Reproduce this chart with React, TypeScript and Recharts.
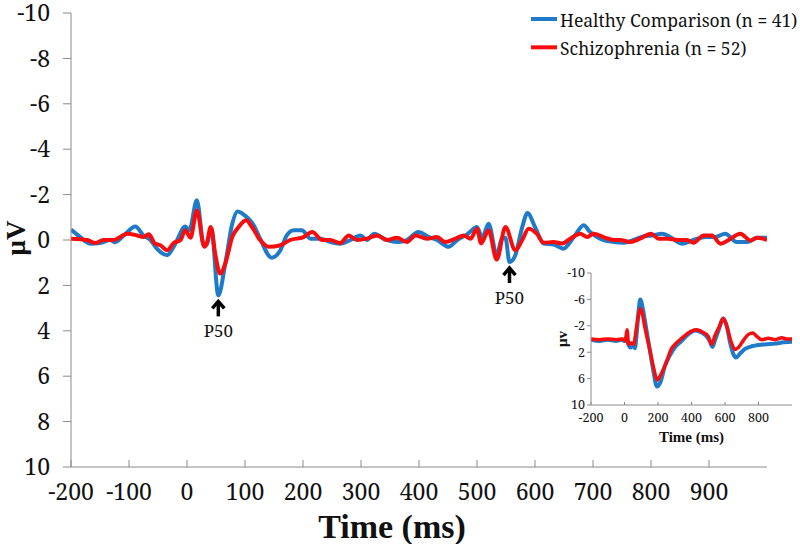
import React from 'react';
import { LineChart, Line, XAxis, YAxis, Legend, ReferenceDot, Label } from 'recharts';

const SERIF_REG = '"Noto Serif", "DejaVu Serif", serif';
const SERIF_BOLD = '"Liberation Serif", "Noto Serif", serif';
const BLUE = '#1f7bc7';
const RED = '#f70d0d';
const AXIS_GRAY = '#8a8a8a';
const TEXT = '#111';

const seriesNames = ['Healthy Comparison (n = 41)', 'Schizophrenia (n = 52)'];

// Main panel: time (ms) and amplitude (µV, positive plotted downward)
const hcTimes = [-200, -184, -167, -150, -132, -124, -109, -89, -75, -63, -52, -34, -20, -3, 4, 17, 29, 34, 42, 54, 66, 78, 87, 103, 115, 126, 146, 161, 172, 184, 198, 213, 230, 247, 264, 282, 299, 310, 323, 339, 350, 365, 379, 399, 417, 431, 451, 466, 483, 500, 509, 520, 534, 543, 549, 556, 566, 578, 587, 600, 615, 632, 649, 667, 684, 695, 707, 718, 736, 753, 770, 787, 802, 819, 833, 853, 873, 894, 911, 928, 948, 966, 983, 1000];
const hcValues = [-0.46, -0.13, 0.16, 0.13, 0, 0.1, -0.2, -0.6, -0.2, 0, 0.38, 0.67, 0.16, -0.6, -0.43, -1.75, 0.25, 0.2, -0.5, 2.44, 1.04, -0.72, -1.26, -1.01, -0.65, -0.06, 0.78, 0.45, -0.2, -0.43, -0.43, -0.06, -0.06, 0.09, 0.16, 0, -0.2, 0, -0.28, -0.06, 0.04, 0.09, 0, -0.35, -0.13, 0, 0.3, 0, -0.25, -0.57, -0.1, -0.72, 0.67, -0.06, -0.1, 0.97, 0.67, -0.57, -1.19, -0.57, 0.16, 0.2, 0.38, -0.13, -0.65, -0.35, -0.13, 0, 0.09, 0.12, 0, -0.16, -0.2, -0.28, -0.13, 0.16, 0, -0.13, -0.13, -0.28, 0.09, 0.09, -0.1, -0.1];

const szTimes = [-200, -172, -158, -144, -127, -103, -86, -75, -66, -55, -46, -34, -23, -11, -3, 6, 17, 30, 34, 41, 49, 57, 66, 78, 89, 102, 112, 126, 141, 161, 178, 201, 216, 233, 247, 264, 279, 293, 310, 328, 345, 362, 379, 394, 414, 431, 445, 463, 477, 489, 500, 507, 520, 534, 549, 566, 578, 589, 603, 615, 632, 647, 661, 678, 690, 701, 718, 736, 747, 764, 781, 800, 813, 830, 845, 862, 873, 891, 905, 920, 934, 954, 972, 983, 1000];
const szValues = [-0.06, 0, 0.13, 0, 0, -0.28, -0.2, -0.13, -0.25, 0.16, 0.23, 0.45, 0.13, 0, -0.43, -0.1, -1.3, 0.3, 0.15, -0.57, 0.67, 1.48, 1.04, -0.13, -0.57, -0.87, -0.57, 0, 0.3, 0.23, 0, -0.13, -0.35, 0, 0, 0.13, -0.2, 0, -0.06, -0.2, 0, -0.1, 0.09, -0.2, -0.06, -0.13, 0.09, -0.06, -0.2, -0.06, -0.5, 0.15, -0.43, 0.86, -0.57, 0.45, 0, -0.5, -0.28, 0.12, 0.09, 0.15, -0.06, -0.28, -0.13, -0.28, -0.13, 0, 0, 0.09, -0.06, -0.28, -0.06, -0.06, 0, 0, 0.12, -0.2, -0.2, 0.16, 0, -0.28, 0.03, -0.1, 0];

// Inset panel
const insetHcTimes = [-200, -150, -100, -50, -20, 0, 10, 20, 35, 50, 62, 75, 85, 94, 110, 130, 150, 170, 194, 215, 240, 270, 300, 340, 380, 420, 460, 490, 510, 525, 540, 560, 590, 610, 630, 650, 665, 690, 720, 760, 800, 850, 900, 950, 1000];
const insetHcValues = [0.1, 0.3, 0.1, 0.3, 0.1, 0.3, -0.2, 0.6, 1.3, 1.0, 1.4, -1.5, -4.5, -6.0, -4.5, -1.5, 1.5, 4.5, 7.2, 6.5, 4.2, 2.5, 1.3, 0.3, -0.7, -1.3, -1.0, -0.4, 0.4, 1.2, 0.2, -1.2, -3.1, -2, 0.5, 2.3, 2.8, 2.2, 1.5, 1.1, 0.9, 0.8, 0.7, 0.5, 0.4];
const insetSzTimes = [-200, -150, -100, -50, -10, 5, 15, 25, 40, 55, 70, 85, 94, 105, 120, 150, 175, 194, 215, 250, 280, 310, 350, 400, 430, 470, 500, 520, 540, 565, 590, 610, 635, 660, 680, 710, 740, 765, 790, 820, 860, 900, 940, 970, 1000];
const insetSzValues = [0, 0.1, 0, 0.1, 0, 0.3, -1.4, 0.8, 0.6, 0.8, -1.5, -3.8, -4.6, -4.0, -2, 1.5, 4.5, 6.2, 5.5, 3.5, 1.5, 0.6, -0.3, -1.2, -1.4, -1, -0.4, 0.8, -0.5, -1.8, -3.1, -2, 0.3, 1.6, 1.3, 0.2, -0.7, -0.9, -0.4, 0.1, -0.1, 0.1, -0.2, 0, 0];

const mainXTicks = [-200, -100, 0, 100, 200, 300, 400, 500, 600, 700, 800, 900];
const mainYTicks = [-10, -8, -6, -4, -2, 0, 2, 4, 6, 8, 10];
const insetXTicks = [-200, 0, 200, 400, 600, 800];
const insetYTicks = [-10, -6, -2, 2, 6, 10];

const p50Times = [54, 556];
const p50Values = [2.44, 0.97];
const p50Label = 'P50';

const zip = (ts: number[], vs: number[]) => ts.map((t, i) => ({ t, v: vs[i] }));
const hcData = zip(hcTimes, hcValues);
const szData = zip(szTimes, szValues);
const insetHcData = zip(insetHcTimes, insetHcValues);
const insetSzData = zip(insetSzTimes, insetSzValues);
const p50Marks = p50Times.map((t, i) => ({ t, v: p50Values[i] }));

const P50Marker = (props: any) => {
  const { cx, cy } = props;
  if (cx == null || cy == null) return null;
  return (
    <g>
      <line x1={cx} x2={cx} y1={cy + 7} y2={cy + 21} stroke="#000" strokeWidth={3.5} />
      <polyline points={`${cx - 6},${cy + 13} ${cx},${cy + 6} ${cx + 6},${cy + 13}`} fill="none" stroke="#000" strokeWidth={3.5} />
      <text x={cx} y={cy + 42} textAnchor="middle" fontFamily={SERIF_REG} fontSize={17} fill={TEXT}>{p50Label}</text>
    </g>
  );
};

const renderLegend = (props: any) => {
  const payload = props.payload || [];
  return (
    <svg width={275} height={64}>
      {payload.map((p: any, i: number) => (
        <g key={i}>
          <line x1={6} x2={32} y1={19 + 28.3 * i} y2={19 + 28.3 * i} stroke={p.color} strokeWidth={4} />
          <text x={35} y={26.5 + 28.3 * i} fontFamily={SERIF_REG} fontSize={17.5} fill={TEXT}>{p.value}</text>
        </g>
      ))}
    </svg>
  );
};

const MainXLabel = (props: any) => {
  const vb = props.viewBox || {};
  return (
    <text x={vb.x + vb.width / 2 - 27} y={vb.y + 71} textAnchor="middle" fontFamily={SERIF_BOLD} fontWeight="bold" fontSize={34} fill={TEXT}>Time (ms)</text>
  );
};
const MainYLabel = (props: any) => {
  const vb = props.viewBox || {};
  const x = vb.x + 16;
  const y = vb.y + vb.height / 2 - 2;
  return (
    <text x={x} y={y} transform={`rotate(-90, ${x}, ${y})`} textAnchor="middle" dominantBaseline="central" fontFamily={SERIF_BOLD} fontWeight="bold" fontSize={27} fill={TEXT}>μV</text>
  );
};
const InsetXLabel = (props: any) => {
  const vb = props.viewBox || {};
  return (
    <text x={vb.x + vb.width / 2} y={vb.y + 37} textAnchor="middle" fontFamily={SERIF_BOLD} fontWeight="bold" fontSize={15} fill={TEXT}>Time (ms)</text>
  );
};
const InsetYLabel = (props: any) => {
  const vb = props.viewBox || {};
  const x = vb.x + 22;
  const y = vb.y + vb.height / 2;
  return (
    <text x={x} y={y} transform={`rotate(-90, ${x}, ${y})`} textAnchor="middle" dominantBaseline="central" fontFamily={SERIF_BOLD} fontWeight="bold" fontSize={15} fill={TEXT}>μv</text>
  );
};

export default function App() {
  return (
    <div style={{ position: 'absolute', left: 0, top: 0, width: 800, height: 544, background: '#fff' }}>
      <div style={{ position: 'absolute', left: 0, top: 0 }}>
        <LineChart width={800} height={544} margin={{ top: 13, right: 33, bottom: 0, left: 0 }}>
          <XAxis
            dataKey="t"
            type="number"
            domain={[-200, 1000]}
            ticks={mainXTicks}
            interval={0}
            allowDataOverflow
            height={77}
            stroke={AXIS_GRAY}
            tickSize={-7}
            tickMargin={24}
            tick={{ fill: TEXT, fontSize: 23, fontFamily: SERIF_REG }}
          >
            <Label content={<MainXLabel />} />
          </XAxis>
          <YAxis
            dataKey="v"
            type="number"
            domain={[-10, 10]}
            reversed
            ticks={mainYTicks}
            interval={0}
            allowDataOverflow
            width={71}
            stroke={AXIS_GRAY}
            tickSize={8}
            tickMargin={13}
            tick={{ fill: TEXT, fontSize: 23, fontFamily: SERIF_REG }}
          >
            <Label content={<MainYLabel />} />
          </YAxis>
          <Legend
            layout="vertical"
            align="center"
            verticalAlign="middle"
            content={renderLegend}
            wrapperStyle={{ position: 'absolute', top: 0, left: 525, width: 275, height: 64 }}
          />
          <Line data={hcData} dataKey="v" name={seriesNames[0]} type="monotone" stroke={BLUE} strokeWidth={4} dot={false} activeDot={false} isAnimationActive={false} />
          <Line data={szData} dataKey="v" name={seriesNames[1]} type="monotone" stroke={RED} strokeWidth={4} dot={false} activeDot={false} isAnimationActive={false} />
          {p50Marks.map((m, i) => (
            <ReferenceDot key={i} x={m.t} y={m.v} r={0} ifOverflow="visible" shape={(p: any) => <P50Marker {...p} />} />
          ))}
        </LineChart>
      </div>
      <div style={{ position: 'absolute', left: 540, top: 260 }}>
        <LineChart width={260} height={190} margin={{ top: 13, right: 8, bottom: 0, left: 0 }}>
          <XAxis
            dataKey="t"
            type="number"
            domain={[-200, 1000]}
            ticks={insetXTicks}
            interval={0}
            allowDataOverflow
            height={45}
            stroke={AXIS_GRAY}
            tickSize={-3}
            tickMargin={11}
            tick={{ fill: TEXT, fontSize: 12.5, fontFamily: SERIF_REG }}
          >
            <Label content={<InsetXLabel />} />
          </XAxis>
          <YAxis
            dataKey="v"
            type="number"
            domain={[-10, 10]}
            reversed
            ticks={insetYTicks}
            interval={0}
            allowDataOverflow
            width={51}
            stroke={AXIS_GRAY}
            tickSize={4}
            tickMargin={2}
            tick={{ fill: TEXT, fontSize: 12.5, fontFamily: SERIF_REG }}
          >
            <Label content={<InsetYLabel />} />
          </YAxis>
          <Line data={insetHcData} dataKey="v" name={seriesNames[0]} type="monotone" stroke={BLUE} strokeWidth={4} dot={false} activeDot={false} isAnimationActive={false} />
          <Line data={insetSzData} dataKey="v" name={seriesNames[1]} type="monotone" stroke={RED} strokeWidth={3.5} dot={false} activeDot={false} isAnimationActive={false} />
        </LineChart>
      </div>
    </div>
  );
}
